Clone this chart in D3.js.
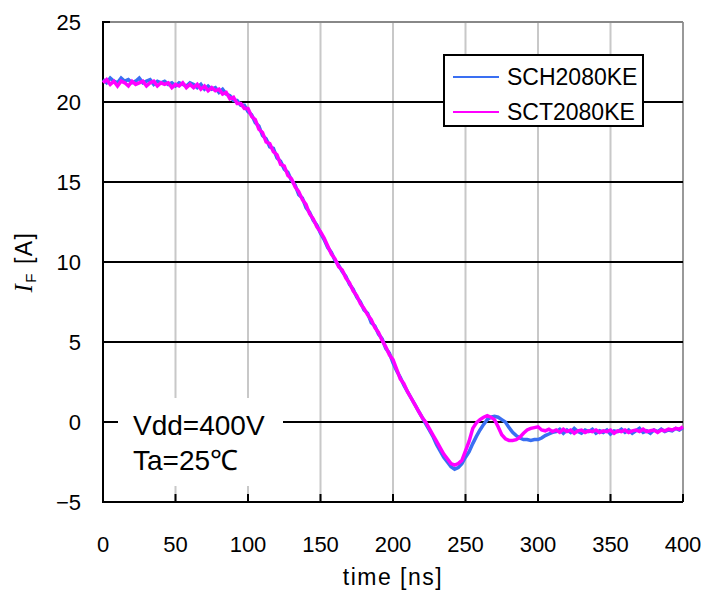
<!DOCTYPE html>
<html>
<head>
<meta charset="utf-8">
<script src="https://cdn.jsdelivr.net/npm/d3@7"></script>
<style>
    body { margin: 0; background: #fff; }
    svg { display: block; font-family: "Liberation Sans", Arial, sans-serif; }
</style>
</head>
<body>
<div id="chart"></div>
<script>
// Sample grid of the scope traces (ns)
const sampleStep = 2.5;
const xTicks = [0, 50, 100, 150, 200, 250, 300, 350, 400];
const yTicks = [-5, 0, 5, 10, 15, 20, 25];
const seriesNames = ['SCH2080KE', 'SCT2080KE'];

// Forward current IF [A], every 2.5 ns
const sch = [
    21.4, 21.2, 21.5, 21.3, 21.2, 21.5, 21.3, 21.4, 21.2, 21.3,
    21.5, 21.2, 21.3, 21.4, 21.1, 21.3, 21.2, 21.3, 21.1, 21.2,
    21.0, 21.2, 21.1, 21.0, 21.2,
    21.1, 20.9, 21.1, 20.8, 21.0, 20.8, 20.9, 20.6, 20.8, 20.5, 20.4, 20.1, 20.1, 19.8, 19.8, 19.4,
    19.2, 18.7, 18.5, 17.9, 17.7, 17.2, 17.1, 16.5, 16.3, 15.8, 15.6, 15.1, 14.8, 14.2, 14.0, 13.4, 13.1, 12.6, 12.3, 11.8,
    11.4, 10.9, 10.6, 10.1, 9.8, 9.4, 9.1, 8.6, 8.3, 7.8, 7.5, 7.0, 6.8, 6.2, 6.0, 5.5, 5.2, 4.6, 4.3, 3.7,
    3.2, 2.8, 2.3, 1.9, 1.5, 1.1, 0.7, 0.3, -0.1, -0.5, -0.9, -1.4, -1.8, -2.2, -2.5, -2.8, -2.95, -2.85, -2.6, -2.2,
    -1.85, -1.35, -0.9, -0.5, -0.15, 0.15, 0.3, 0.35, 0.3, 0.15, 0.0, -0.35, -0.65, -0.85, -1.0,
    -1.1, -1.1, -1.15, -1.1, -1.1, -1.0, -0.85, -0.75, -0.65,
    -0.6, -0.45, -0.7, -0.5, -0.65, -0.4, -0.6, -0.7, -0.5, -0.6, -0.45, -0.7, -0.55, -0.65, -0.5,
    -0.75, -0.55, -0.6, -0.45, -0.65, -0.5, -0.7, -0.55, -0.4, -0.65, -0.55, -0.7, -0.5, -0.6, -0.45,
    -0.6, -0.5, -0.55, -0.4, -0.5, -0.35
];
const sct = [
    21.2, 21.4, 21.1, 21.3, 21.0, 21.3, 21.2, 21.0, 21.3, 21.1,
    21.2, 21.3, 21.0, 21.2, 21.3, 21.0, 21.2, 21.1, 21.2, 20.9,
    21.1, 21.0, 21.2, 20.9, 21.1,
    20.9, 21.1, 20.8, 21.0, 20.7, 20.9, 20.7, 20.8, 20.5, 20.6, 20.2, 20.3, 19.9, 19.9, 19.6, 19.6,
    19.1, 18.9, 18.3, 18.1, 17.5, 17.4, 16.9, 16.7, 16.1, 16.0, 15.4, 15.2, 14.7, 14.4, 13.9, 13.6, 13.0, 12.7, 12.2, 11.9,
    11.5, 11.0, 10.5, 10.2, 9.7, 9.5, 9.0, 8.7, 8.2, 7.9, 7.4, 7.1, 6.7, 6.4, 5.9, 5.6, 5.1, 4.7, 4.2, 3.9,
    3.3, 2.7, 2.4, 1.9, 1.5, 1.1, 0.7, 0.3, 0.0, -0.4, -0.8, -1.2, -1.6, -2.0, -2.3, -2.6, -2.7, -2.6, -2.4, -1.8,
    -1.2, -0.4, -0.05, 0.15, 0.3, 0.4, 0.3, 0.15, -0.3, -0.8, -1.05, -1.15, -1.15, -1.1, -0.95,
    -0.7, -0.5, -0.4, -0.35, -0.3, -0.5, -0.55, -0.45, -0.6,
    -0.5, -0.65, -0.45, -0.6, -0.5, -0.7, -0.55, -0.5, -0.65, -0.55, -0.6, -0.5, -0.65, -0.55, -0.6,
    -0.5, -0.7, -0.55, -0.6, -0.5, -0.65, -0.55, -0.5, -0.6, -0.45, -0.6, -0.55, -0.5, -0.65, -0.5,
    -0.55, -0.45, -0.5, -0.4, -0.45, -0.3
];
const colors = ['#3a6ff2', '#ff00ff'];

function createChart() {
    const W = 705, H = 594;
    const margin = {top: 22, right: 22, bottom: 92, left: 103};
    const width = W - margin.left - margin.right;
    const height = H - margin.top - margin.bottom;

    const svg = d3.select("#chart")
        .append("svg")
        .attr("width", W)
        .attr("height", H);

    const g = svg.append("g")
        .attr("transform", `translate(${margin.left},${margin.top})`);

    const x = d3.scaleLinear().domain([0, 400]).range([0, width]);
    const y = d3.scaleLinear().domain([-5, 25]).range([height, 0]);

    // vertical grid (light gray), right edge darker gray
    g.selectAll(".vgrid")
        .data(xTicks.slice(1))
        .enter().append("line")
        .attr("x1", d => x(d)).attr("x2", d => x(d))
        .attr("y1", 0).attr("y2", height)
        .attr("stroke", d => d === 400 ? "#999" : "#c8c8c8")
        .attr("stroke-width", 2);

    // top edge gray
    g.append("line")
        .attr("x1", 0).attr("x2", width)
        .attr("y1", y(25)).attr("y2", y(25))
        .attr("stroke", "#888").attr("stroke-width", 2);

    // horizontal grid (black)
    g.selectAll(".hgrid")
        .data(yTicks.filter(d => d < 25))
        .enter().append("line")
        .attr("x1", 0).attr("x2", width)
        .attr("y1", d => y(d)).attr("y2", d => y(d))
        .attr("stroke", "#000")
        .attr("stroke-width", 2);

    // inner tick marks on bottom and top-left
    g.selectAll(".xtick")
        .data(xTicks)
        .enter().append("line")
        .attr("x1", d => x(d)).attr("x2", d => x(d))
        .attr("y1", height).attr("y2", height - 8)
        .attr("stroke", "#000").attr("stroke-width", 2);
    g.append("line")
        .attr("x1", 0).attr("x2", 7)
        .attr("y1", y(25)).attr("y2", y(25))
        .attr("stroke", "#000").attr("stroke-width", 2);

    // left edge
    g.append("line")
        .attr("x1", 0).attr("x2", 0)
        .attr("y1", -1).attr("y2", height + 1)
        .attr("stroke", "#000").attr("stroke-width", 2);

    // tick labels
    g.selectAll(".xlab")
        .data(xTicks)
        .enter().append("text")
        .attr("x", d => x(d))
        .attr("y", height + 50)
        .attr("text-anchor", "middle")
        .style("font-size", "22px")
        .text(d => d);

    g.selectAll(".ylab")
        .data(yTicks)
        .enter().append("text")
        .attr("x", -22)
        .attr("y", d => y(d) + 8)
        .attr("text-anchor", "end")
        .style("font-size", "22px")
        .text(d => d < 0 ? "\u2212" + Math.abs(d) : d);

    // axis titles
    g.append("text")
        .attr("x", width / 2)
        .attr("y", height + 83)
        .attr("text-anchor", "middle")
        .style("font-size", "23px")
        .style("letter-spacing", "1.5px")
        .text("time [ns]");

    const yt = svg.append("text")
        .attr("transform", `translate(32,${margin.top + height / 2}) rotate(-90)`)
        .attr("text-anchor", "middle")
        .style("font-size", "23px")
        .style("letter-spacing", "1.5px");
    yt.append("tspan")
        .style("font-family", "'Liberation Serif', 'DejaVu Serif', serif")
        .style("font-style", "italic")
        .style("font-size", "25px")
        .text("I");
    yt.append("tspan")
        .attr("dy", 4)
        .style("font-size", "15px")
        .text("F");
    yt.append("tspan")
        .attr("dy", -4)
        .text(" [A]");

    // annotation box
    g.append("rect")
        .attr("x", 15).attr("y", y(0) - 24)
        .attr("width", 165).attr("height", 88)
        .attr("fill", "#fff");
    g.append("text")
        .attr("x", 30).attr("y", y(0) + 13)
        .style("font-size", "28px")
        .text("Vdd=400V");
    g.append("text")
        .attr("x", 30).attr("y", y(0) + 48)
        .style("font-size", "28px")
        .text("Ta=25\u2103");

    // traces
    const line = d3.line()
        .x((d, i) => x(i * sampleStep))
        .y(d => y(d));

    [sch, sct].forEach((vals, k) => {
        g.append("path")
            .datum(vals)
            .attr("d", line)
            .attr("fill", "none")
            .attr("stroke", colors[k])
            .attr("stroke-width", 3.5)
            .attr("stroke-linejoin", "miter");
    });

    // legend
    const lg = g.append("g")
        .attr("transform", `translate(${444 - margin.left},${55 - margin.top})`);
    lg.append("rect")
        .attr("width", 199).attr("height", 71)
        .attr("fill", "#fff")
        .attr("stroke", "#000")
        .attr("stroke-width", 2);
    seriesNames.forEach((name, i) => {
        const yy = 22 + i * 35;
        lg.append("line")
            .attr("x1", 9).attr("x2", 55)
            .attr("y1", yy).attr("y2", yy)
            .attr("stroke", colors[i])
            .attr("stroke-width", 2);
        lg.append("text")
            .attr("x", 63).attr("y", yy + 8)
            .style("font-size", "23px")
            .text(name);
    });
}

createChart();
</script>
</body>
</html>
